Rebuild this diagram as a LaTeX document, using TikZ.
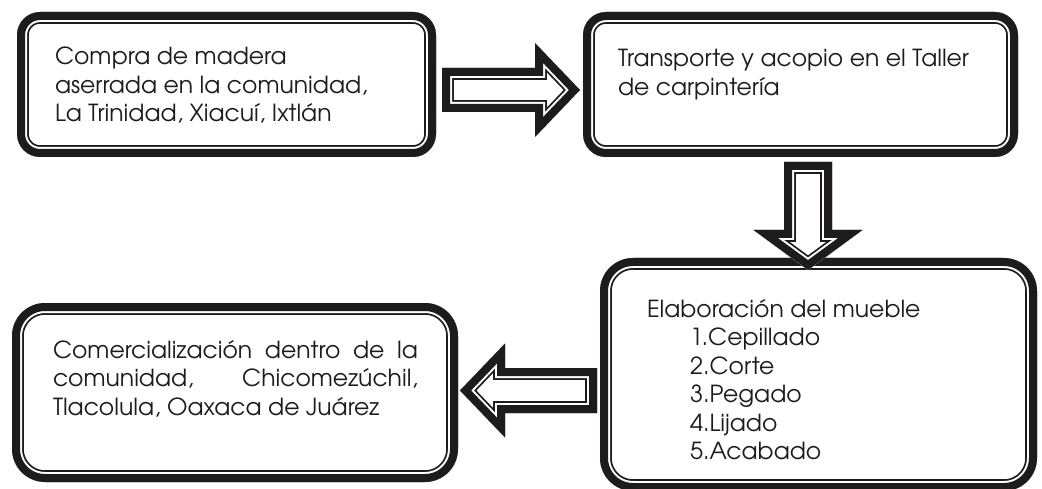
\documentclass[tikz,border=0pt]{standalone}
\usepackage{fontspec}
\setmainfont{TeX Gyre Adventor}
\usetikzlibrary{calc}
\definecolor{ink}{HTML}{1E1B1C}
\tikzset{
  boxnode/.style={rectangle, draw=none, inner sep=0pt, outer sep=0pt},
  label/.style={anchor=base west, inner sep=0pt, outer sep=0pt, text=ink,
    font=\fontsize{23.5}{28.5}\selectfont},
}
% framed rounded box: thick band, white gap, thin line
\newcommand\fancyframe[2]{%
  \begin{scope}
    \clip[rounded corners=#2] (#1.north west) rectangle (#1.south east);
    \fill[white] (#1.north west) rectangle (#1.south east);
    \draw[ink, line width=23.6pt, rounded corners=#2] (#1.north west) rectangle (#1.south east);
    \draw[white, line width=20pt, rounded corners=#2] (#1.north west) rectangle (#1.south east);
    \draw[ink, line width=16pt, rounded corners=#2] (#1.north west) rectangle (#1.south east);
  \end{scope}}
% block arrow: start, tip, head length, shaft half width, head half width
\newcommand\blockarrow[5]{%
  \coordinate (tmpq) at ($(#2)!#3!(#1)$);
  \def\arrowpath{($(#1)!#4!90:(#2)$) -- ($(tmpq)!#4!90:(#2)$) -- ($(tmpq)!#5!90:(#2)$) -- (#2)
     -- ($(tmpq)!#5!-90:(#2)$) -- ($(tmpq)!#4!-90:(#2)$) -- ($(#1)!#4!-90:(#2)$) -- cycle}%
  \begin{scope}[line join=miter, miter limit=10]
    \clip \arrowpath;
    \fill[white] \arrowpath;
    \draw[ink, line width=23.6pt] \arrowpath;
    \draw[white, line width=20pt] \arrowpath;
    \draw[ink, line width=16pt] \arrowpath;
  \end{scope}}
\begin{document}
\begin{tikzpicture}[x=1pt,y=-1pt]
\useasboundingbox (0,0) rectangle (1042,489);
\fill[white] (0,0) rectangle (1042,489);

% boxes
\node[boxnode, minimum width=419pt, minimum height=145pt] (b1) at (226.5,84.5) {};
\node[boxnode, minimum width=435pt, minimum height=145pt] (b2) at (800.5,84.5) {};
\node[boxnode, minimum width=437pt, minimum height=233pt] (b3) at (818.5,374.5) {};
\node[boxnode, minimum width=446pt, minimum height=179pt] (b4) at (235,392.5) {};

\fancyframe{b1}{23pt}
\fancyframe{b2}{23pt}
\fancyframe{b3}{33pt}
\fancyframe{b4}{33pt}

% texts
\node[label] (t1) at ($(b1.north west)+(38,53)$)
  {\begin{tabular}[t]{@{}l@{}}Compra de madera\\aserrada en la comunidad,\\La Trinidad, Xiacuí, Ixtlán\end{tabular}};
\node[label] (t2) at ($(b2.north west)+(35,55)$)
  {\begin{tabular}[t]{@{}l@{}}Transporte y acopio en el Taller\\de carpintería\end{tabular}};
\node[label] (t3) at ($(b3.north west)+(47,59)$)
  {\begin{tabular}[t]{@{}l@{}}Elaboración del mueble\\\hspace*{43pt}1.Cepillado\\\hspace*{43pt}2.Corte\\\hspace*{43pt}3.Pegado\\\hspace*{43pt}4.Lijado\\\hspace*{43pt}5.Acabado\end{tabular}};
\node[label] (t4) at ($(b4.north west)+(41,55)$)
  {\begin{tabular}[t]{@{}l@{}}\makebox[365pt][s]{Comercialización dentro de la}\\\makebox[365pt][s]{comunidad, \hfill Chicomezúchil,}\\Tlacolula, Oaxaca de Juárez\end{tabular}};

% connectors
\coordinate (a1s) at ($(b1.east)+(6,5.5)$);
\coordinate (a1t) at ($(b2.west)+(-3,5.5)$);
\coordinate (a2s) at ($(b2.south)+(7.5,5)$);
\coordinate (a2t) at ($(b3.north)+(-10.5,12)$);
\coordinate (a3s) at ($(b3.west)+(-3,16)$);
\coordinate (a3t) at ($(b4.east)+(2,-2)$);
\blockarrow{a1s}{a1t}{45pt}{22pt}{47pt}
\blockarrow{a2s}{a2t}{40pt}{24pt}{54.5pt}
\blockarrow{a3s}{a3t}{45pt}{22.5pt}{47pt}
\end{tikzpicture}
\end{document}
